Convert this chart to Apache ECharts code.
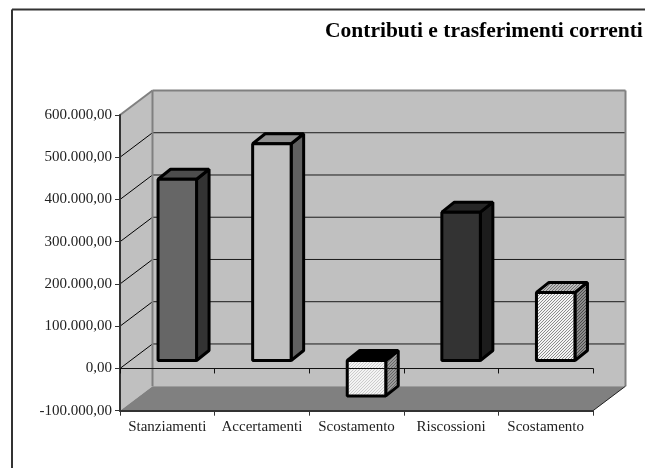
<!DOCTYPE html>
<html>
<head>
<meta charset="utf-8">
<style>
  html, body { margin: 0; padding: 0; background: #fff; }
  #chart { width: 645px; height: 468px; }
</style>
<script src="https://cdn.jsdelivr.net/npm/echarts@6/dist/echarts.min.js"></script>
</head>
<body>
<div id="chart"></div>
<script>
var titleText = 'Contributi e trasferimenti correnti';
var categories = ['Stanziamenti', 'Accertamenti', 'Scostamento', 'Riscossioni', 'Scostamento'];
var barValues = [429000, 513000, -84000, 351000, 161000];
var yTicks = [-100000, 0, 100000, 200000, 300000, 400000, 500000, 600000];
var yTickLabels = ['-100.000,00', '0,00', '100.000,00', '200.000,00', '300.000,00', '400.000,00', '500.000,00', '600.000,00'];

var FONT = '"Liberation Serif", serif';
var WALL_DX = 32.5, WALL_DY = -24.5; // depth of the whole box
var BAR_DX = 10, BAR_DY = -8;        // where bars stand inside the box
var DEPTH_DX = 12.5, DEPTH_DY = -10; // depth of one bar

// small hatch tiles for the white bars
function hatch(bg, fg) {
  var c = document.createElement('canvas');
  c.width = 3;
  c.height = 3;
  var ctx = c.getContext('2d');
  ctx.fillStyle = bg;
  ctx.fillRect(0, 0, 3, 3);
  ctx.fillStyle = fg;
  [[2, 0], [1, 1], [0, 2]].forEach(function (p) {
    ctx.fillRect(p[0], p[1], 1, 1);
  });
  return { image: c, repeat: 'repeat' };
}

var barStyles = [
  { front: '#666666', side: '#333333', top: '#4d4d4d' },
  { front: '#c0c0c0', side: '#606060', top: '#909090' },
  { front: hatch('#f4f4f4', '#cccccc'), side: hatch('#999999', '#666666'), top: '#000000' },
  { front: '#333333', side: '#1c1c1c', top: '#262626' },
  { front: hatch('#f4f4f4', '#8c8c8c'), side: hatch('#8c8c8c', '#4a4a4a'), top: hatch('#bbbbbb', '#707070') }
];

function poly(points, fill, stroke, width) {
  return {
    type: 'polygon',
    shape: { points: points },
    style: { fill: fill, stroke: stroke || null, lineWidth: width || 0, lineJoin: 'bevel' }
  };
}

function seg(x1, y1, x2, y2, color, width) {
  return {
    type: 'line',
    shape: { x1: x1, y1: y1, x2: x2, y2: y2 },
    style: { stroke: color, lineWidth: width }
  };
}

function renderBox(params, api) {
  var left = params.coordSys.x;
  var right = left + params.coordSys.width;
  var topY = api.coord([0, yTicks[yTicks.length - 1]])[1];
  var botY = api.coord([0, yTicks[0]])[1];
  var backL = left + WALL_DX, backR = right + WALL_DX;
  var items = [
    poly([[backL, topY + WALL_DY], [backR, topY + WALL_DY], [backR, botY + WALL_DY], [backL, botY + WALL_DY]], '#c0c0c0'),
    poly([[left, topY], [backL, topY + WALL_DY], [backL, botY + WALL_DY], [left, botY]], '#c0c0c0'),
    poly([[left, botY], [backL, botY + WALL_DY], [backR, botY + WALL_DY], [right, botY]], '#808080')
  ];
  yTicks.slice(1, -1).forEach(function (t) {
    var y = api.coord([0, t])[1];
    items.push(seg(left, y, backL, y + WALL_DY, '#000000', 1));
    items.push(seg(backL, y + WALL_DY, backR, y + WALL_DY, '#1a1a1a', 1));
  });
  items.push(seg(left, topY, backL, topY + WALL_DY, '#808080', 2));
  items.push(seg(backL, topY + WALL_DY, backR, topY + WALL_DY, '#808080', 2));
  items.push(seg(backL, topY + WALL_DY, backL, botY + WALL_DY, '#808080', 2));
  items.push(seg(backR, topY + WALL_DY, backR, botY + WALL_DY, '#808080', 2));
  items.push(seg(right, botY, backR, botY + WALL_DY, '#222222', 1));
  return { type: 'group', children: items };
}

function renderBar(params, api) {
  var i = api.value(0);
  var s = barStyles[params.dataIndex];
  var w = api.size([1, 0])[0] * 0.407;
  var a = api.coord([i, api.value(1)]);
  var b = api.coord([i, 0]);
  var x0 = a[0] + BAR_DX - w / 2;
  var x1 = x0 + w;
  var yTop = Math.min(a[1], b[1]) + BAR_DY;
  var yBot = Math.max(a[1], b[1]) + BAR_DY;
  var k = 3;
  return {
    type: 'group',
    children: [
      poly([[x1, yTop], [x1 + DEPTH_DX, yTop + DEPTH_DY], [x1 + DEPTH_DX, yBot + DEPTH_DY], [x1, yBot]], s.side, '#000', k),
      poly([[x0, yTop], [x0 + DEPTH_DX, yTop + DEPTH_DY], [x1 + DEPTH_DX, yTop + DEPTH_DY], [x1, yTop]], s.top, '#000', k),
      poly([[x0, yTop], [x1, yTop], [x1, yBot], [x0, yBot]], s.front, '#000', k)
    ]
  };
}

var chart = echarts.init(document.getElementById('chart'), null, { renderer: 'canvas' });
chart.setOption({
  animation: false,
  backgroundColor: '#ffffff',
  title: {
    text: titleText,
    left: 325,
    top: 20,
    padding: 0,
    textStyle: { fontFamily: FONT, fontSize: 21.5, fontWeight: 'bold', color: '#000' }
  },
  grid: { left: 120, right: 52, top: 115, bottom: 57.3 },
  xAxis: [
    {
      type: 'category',
      data: categories,
      position: 'bottom',
      z: 4,
      axisLine: { onZero: false, lineStyle: { color: '#333', width: 2 } },
      axisTick: { show: true, length: 5, lineStyle: { color: '#333', width: 1 } },
      axisLabel: { interval: 0, margin: 9, fontFamily: FONT, fontSize: 15, color: '#222' },
      splitLine: { show: false }
    },
    {
      type: 'category',
      data: categories,
      position: 'bottom',
      z: 4,
      axisLine: { onZero: true, lineStyle: { color: '#111', width: 1 } },
      axisTick: { show: true, length: 5, lineStyle: { color: '#111', width: 1 } },
      axisLabel: { show: false },
      splitLine: { show: false }
    }
  ],
  yAxis: {
    type: 'value',
    min: -100000,
    max: 600000,
    interval: 100000,
    z: 4,
    axisLine: { show: true, onZero: false, lineStyle: { color: '#333', width: 2 } },
    axisTick: { show: true, length: 5, lineStyle: { color: '#333', width: 1 } },
    axisLabel: {
      margin: 8,
      fontFamily: FONT,
      fontSize: 15,
      color: '#222',
      formatter: function (v) { return yTickLabels[yTicks.indexOf(v)]; }
    },
    splitLine: { show: false }
  },
  series: [
    { type: 'custom', z: 1, silent: true, renderItem: renderBox, data: [[0, 0]], encode: { x: 0, y: 1 } },
    {
      type: 'custom',
      z: 2,
      renderItem: renderBar,
      data: barValues.map(function (v, i) { return [i, v]; }),
      encode: { x: 0, y: 1 }
    }
  ],
  graphic: [
    { type: 'line', shape: { x1: 12, y1: 9.5, x2: 645, y2: 9.5 }, style: { stroke: '#333', lineWidth: 2 }, z: 10 },
    { type: 'line', shape: { x1: 12, y1: 9.5, x2: 12, y2: 468 }, style: { stroke: '#333', lineWidth: 2 }, z: 10 }
  ]
});
</script>
</body>
</html>
